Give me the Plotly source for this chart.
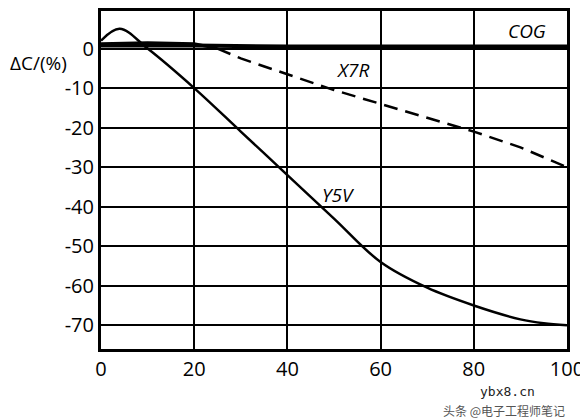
import plotly.graph_objects as go

cog_x = [0, 20, 40, 60, 80, 100]
cog_y = [0.8, 0.8, 0.5, 0.5, 0.5, 0.5]
x7r_solid_x = [0, 10, 20, 25]
x7r_solid_y = [1.2, 1.5, 1.2, 0]
x7r_dash_x = [25, 30, 40, 50, 60, 70, 80, 90, 100]
x7r_dash_y = [0, -2.5, -6.5, -10.5, -14, -17.5, -21, -25, -30]
y5v_x = [0, 4, 10, 20, 30, 40, 50, 60, 70, 80, 90, 95, 100]
y5v_y = [2, 5, 0, -10, -21, -32, -43, -54, -60.5, -65, -68.5, -69.5, -70]
x_ticks = [0, 20, 40, 60, 80, 100]
y_ticks = [10, 0, -10, -20, -30, -40, -50, -60, -70]
y_labels = ["10", "0", "-10", "-20", "-30", "-40", "-50", "-60", "-70"]

fig = go.Figure()
fig.add_trace(go.Scatter(x=cog_x, y=cog_y, mode="lines", line=dict(color="black", width=4)))
fig.add_trace(go.Scatter(x=x7r_solid_x, y=x7r_solid_y, mode="lines", line=dict(color="black", width=3)))
fig.add_trace(go.Scatter(x=x7r_dash_x, y=x7r_dash_y, mode="lines", line=dict(color="black", width=2.5, dash="14px,8px")))
fig.add_trace(go.Scatter(x=y5v_x, y=y5v_y, mode="lines", line=dict(color="black", width=2.5, shape="spline")))

font = dict(family="Open Sans, DejaVu Sans", size=20, color="black")
fig.update_layout(
    width=580, height=412, showlegend=False,
    margin=dict(l=93, r=21, t=0, b=71),
    plot_bgcolor="white", paper_bgcolor="white",
    xaxis=dict(range=[0, 100], tickvals=x_ticks, showgrid=True, gridcolor="black", gridwidth=2,
               zeroline=False, showline=True, linecolor="black", linewidth=3, mirror=True,
               tickfont=font, ticks=""),
    yaxis=dict(range=[-76, 9.5], tickvals=y_ticks, ticktext=y_labels, showgrid=True, gridcolor="black", gridwidth=2,
               zeroline=False, showline=True, linecolor="black", linewidth=3, mirror=True,
               tickfont=font, ticks=""),
)
lab = dict(family="Open Sans, DejaVu Sans", size=19, color="black")
fig.add_annotation(x=0, y=0.89, xref="paper", yref="paper", xanchor="left", xshift=-93,
                   text="ΔC/(%)", showarrow=False, font=lab)
fig.add_annotation(x=96, y=4.5, text="<i>COG</i>", showarrow=False, xanchor="right", font=lab)
fig.add_annotation(x=54, y=-5.5, text="<i>X7R</i>", showarrow=False, font=lab)
fig.add_annotation(x=51, y=-37, text="<i>Y5V</i>", showarrow=False, font=lab)
fig.add_annotation(x=1, y=0, xref="paper", yref="paper", xanchor="right", yanchor="top",
                   yshift=-33, xshift=-30, text="ybx8.cn", showarrow=False,
                   font=dict(family="DejaVu Sans Mono", size=13, color="#222"))
fig.add_annotation(x=1, y=0, xref="paper", yref="paper", xanchor="right", yanchor="top",
                   yshift=-51, xshift=0, text="头条 @电子工程师笔记", showarrow=False,
                   font=dict(family="Noto Sans CJK SC", size=12, color="#555"))
fig.write_html("out.html")
